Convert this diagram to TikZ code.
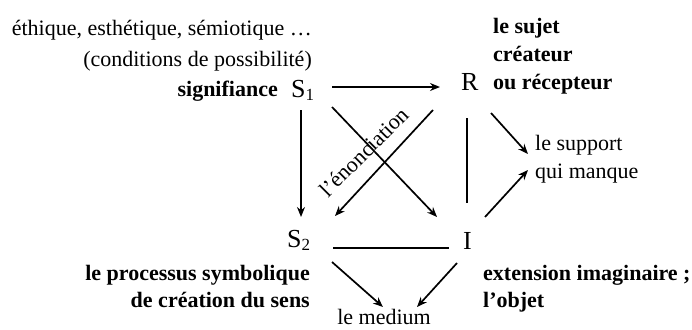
\documentclass[tikz,border=0pt]{standalone}
\usepackage{fontspec}
\setmainfont{Liberation Serif}
\usetikzlibrary{arrows.meta}
\newcommand{\subidx}[1]{\raisebox{-0.3ex}{\fontsize{17}{17}\selectfont #1}}
\begin{document}
\begin{tikzpicture}[x=1pt,y=-1pt,
  txt/.style={inner sep=0pt, font=\fontsize{22}{26}\selectfont},
  btxt/.style={inner sep=0pt, font=\fontsize{22}{26}\selectfont\bfseries},
  letter/.style={inner sep=0pt, font=\fontsize{26}{30}\selectfont},
  arr/.style={line width=1.7pt, -{Stealth[length=10pt,width=8pt]}},
  ln/.style={line width=1.7pt}]
\useasboundingbox (0,0) rectangle (692,329);
% main letters
\node[letter, anchor=base west] (S1) at (291,97) {S\subidx{1}};
\node[letter, anchor=base west] (R) at (461,90) {R};
\node[letter, anchor=base west] (S2) at (287,247) {S\subidx{2}};
\node[letter, anchor=base west] (I) at (463,249) {I};
% labels
\node[txt, anchor=base east] (eth) at (312,36) {éthique, esthétique, sémiotique …};
\node[txt, anchor=base east] (cond) at (312,66) {(conditions de possibilité)};
\node[btxt, anchor=base east] (sig) at (278,96) {signifiance};
\node[btxt, anchor=base west] (suj1) at (493,34) {le sujet};
\node[btxt, anchor=base west] (suj2) at (493,61) {créateur};
\node[btxt, anchor=base west] (suj3) at (493,89) {ou récepteur};
\node[txt, anchor=base west] (sup1) at (535,150) {le support};
\node[txt, anchor=base west] (sup2) at (535,178) {qui manque};
\node[btxt, anchor=base east] (proc1) at (310,280) {le processus symbolique};
\node[btxt, anchor=base east] (proc2) at (310,307) {de création du sens};
\node[btxt, anchor=base west] (ext1) at (483,280) {extension imaginaire ;};
\node[btxt, anchor=base west] (ext2) at (483,307) {l’objet};
\node[txt, anchor=base] (med) at (384,324) {le medium};
\node[txt, rotate=45] (enon) at (364,152) {l’énonciation};
% connectors
\draw[arr] ([shift={(41,-10)}]S1.base west) -- ([shift={(-21,-3)}]R.base west);
\draw[arr] ([shift={(10,13)}]S1.base west) -- ([shift={(14,-30)}]S2.base west);
\draw[arr] ([shift={(41,10)}]S1.base west) -- ([shift={(-26,-32)}]I.base west);
\draw[arr] ([shift={(-28,20)}]R.base west) -- ([shift={(48,-31)}]S2.base west);
\draw[ln] ([shift={(6,28)}]R.base west) -- ([shift={(4,-46)}]I.base west);
\draw[arr] ([shift={(30,23)}]R.base west) -- ([shift={(-7,4)}]sup1.base west);
\draw[arr] ([shift={(22,-32)}]I.base west) -- ([shift={(-7,-8)}]sup2.base west);
\draw[ln] ([shift={(46,1)}]S2.base west) -- ([shift={(-14,-1)}]I.base west);
\draw[arr] ([shift={(45,15)}]S2.base west) -- ([shift={(-1,-17)}]med.base);
\draw[arr] ([shift={(-6,14)}]I.base west) -- ([shift={(33,-17)}]med.base);
\end{tikzpicture}
\end{document}
